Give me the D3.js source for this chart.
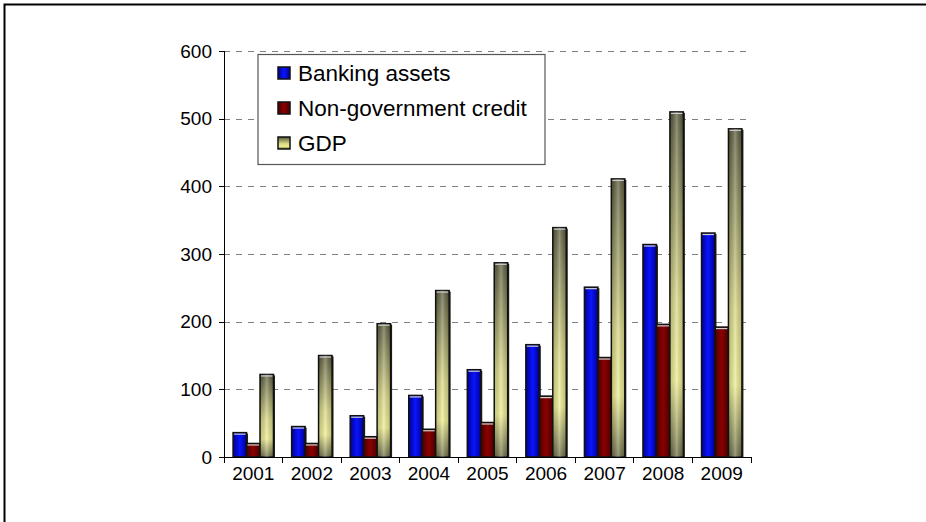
<!DOCTYPE html>
<html lang="en">
<head>
<meta charset="utf-8">
<title>Banking assets, credit and GDP</title>
<script src="https://cdn.jsdelivr.net/npm/d3@7"></script>
<style>
  body { margin: 0; background: #fff; }
  svg { display: block; font-family: "Liberation Sans", Arial, sans-serif; }
  .axis path, .axis line { stroke: #000; stroke-width: 1; shape-rendering: crispEdges; }
  .axis text { font-size: 19px; fill: #000; }
  .grid line { stroke: #808080; stroke-width: 1.3; stroke-dasharray: 6,6; shape-rendering: crispEdges; }
  .grid path { stroke-width: 0; }
  .legend text { font-size: 22.5px; fill: #000; }
</style>
</head>
<body>
<script>
var w = 926, h = 522;
var pLeft = 224, pRight = 751, pTop = 51, pBottom = 457;

var years = ["2001", "2002", "2003", "2004", "2005", "2006", "2007", "2008", "2009"];
var seriesNames = ["Banking assets", "Non-government credit", "GDP"];
var banking = [36, 45, 61, 91, 129, 166, 251, 314, 331];
var credit = [20, 20, 30, 41, 51, 90, 147, 196, 192];
var gdp = [122, 150, 197, 246, 287, 339, 411, 510, 485];
var yTicks = [0, 100, 200, 300, 400, 500, 600];

var series = [banking, credit, gdp];
var gradIds = ["g-blue", "g-red", "g-gdp"];

var svg = d3.select("body").append("svg").attr("width", w).attr("height", h);
var defs = svg.append("defs");

// horizontal shading: dark edges, light middle
function hGrad(id, edge, mid) {
  var g = defs.append("linearGradient").attr("id", id)
    .attr("x1", 0).attr("y1", 0).attr("x2", 1).attr("y2", 0);
  g.append("stop").attr("offset", "0%").attr("stop-color", edge);
  g.append("stop").attr("offset", "50%").attr("stop-color", mid);
  g.append("stop").attr("offset", "100%").attr("stop-color", edge);
}
hGrad("g-blue", "#000090", "#0a14ff");
hGrad("g-red", "#4a0000", "#8c0000");

// GDP: olive at top getting yellow lower down
var gg = defs.append("linearGradient").attr("id", "g-gdp")
  .attr("x1", 0).attr("y1", 0).attr("x2", 0).attr("y2", 1);
gg.append("stop").attr("offset", "0%").attr("stop-color", "#58583a");
gg.append("stop").attr("offset", "55%").attr("stop-color", "#d8d884");
gg.append("stop").attr("offset", "78%").attr("stop-color", "#eeee90");
gg.append("stop").attr("offset", "100%").attr("stop-color", "#6a6a44");

var hl = defs.append("linearGradient").attr("id", "g-shine")
  .attr("x1", 0).attr("y1", 0).attr("x2", 1).attr("y2", 0);
hl.append("stop").attr("offset", "0%").attr("stop-color", "#000").attr("stop-opacity", 0.15);
hl.append("stop").attr("offset", "50%").attr("stop-color", "#fff").attr("stop-opacity", 0.3);
hl.append("stop").attr("offset", "100%").attr("stop-color", "#000").attr("stop-opacity", 0.15);

// outer frame (only top and left edges fall inside the picture)
svg.append("rect").attr("x", 4.5).attr("y", 4.5).attr("width", 1000).attr("height", 1000)
  .attr("fill", "none").attr("stroke", "#000").attr("stroke-width", 2);

var x0 = d3.scaleBand().domain(years).range([pLeft, pRight])
  .paddingInner(0.31).paddingOuter(0.155);
var x1 = d3.scaleBand().domain(d3.range(3)).range([0, x0.bandwidth()]);
var y = d3.scaleLinear().domain([0, 600]).range([pBottom, pTop]);

// gridlines
svg.append("g").attr("class", "grid")
  .attr("transform", "translate(" + pLeft + ",0)")
  .call(d3.axisLeft(y).tickValues(yTicks.slice(1)).tickSize(-(pRight - pLeft)).tickFormat(""));

// bars
years.forEach(function (yr, i) {
  series.forEach(function (s, k) {
    var bx = x0(yr) + x1(k), bw = x1.bandwidth(), by = y(s[i]);
    var g = svg.append("g");
    g.append("rect").attr("x", bx + 1.5).attr("y", by + 1).attr("width", bw)
      .attr("height", pBottom - by - 1).attr("fill", "#222");
    g.append("rect").attr("x", bx).attr("y", by).attr("width", bw)
      .attr("height", pBottom - by).attr("fill", "url(#" + gradIds[k] + ")")
      .attr("stroke", "#111").attr("stroke-width", 1.5);
    if (k == 2) {
      g.append("rect").attr("x", bx).attr("y", by).attr("width", bw)
        .attr("height", pBottom - by).attr("fill", "url(#g-shine)");
    }
    g.append("line").attr("x1", bx + 1).attr("x2", bx + bw - 1)
      .attr("y1", by + 1.5).attr("y2", by + 1.5)
      .attr("stroke", "#d0d0d0").attr("stroke-width", 1.2);
  });
});

// y axis
var yAxis = svg.append("g").attr("class", "axis")
  .attr("transform", "translate(" + pLeft + ",0)")
  .call(d3.axisLeft(y).tickValues(yTicks).tickSizeOuter(0).tickSize(5).tickPadding(7));

// x axis with ticks between categories
var xAxis = svg.append("g").attr("class", "axis")
  .attr("transform", "translate(0," + pBottom + ")")
  .call(d3.axisBottom(x0).tickSize(0).tickSizeOuter(0).tickPadding(10));
xAxis.selectAll("text").attr("dy", "0.71em");
var step = x0.step();
xAxis.selectAll(".sep").data(d3.range(years.length + 1)).enter().append("line")
  .attr("class", "sep")
  .attr("x1", function (d) { return pLeft + d * step; })
  .attr("x2", function (d) { return pLeft + d * step; })
  .attr("y1", 0).attr("y2", 6);

// legend
var lg = svg.append("g").attr("class", "legend");
lg.append("rect").attr("x", 258).attr("y", 54.5).attr("width", 287).attr("height", 110)
  .attr("fill", "#fff").attr("stroke", "#555").attr("stroke-width", 1.2);
seriesNames.forEach(function (name, k) {
  var cy = 73 + k * 35;
  lg.append("rect").attr("x", 278).attr("y", cy - 6).attr("width", 12).attr("height", 12)
    .attr("fill", "url(#" + gradIds[k] + ")").attr("stroke", "#111").attr("stroke-width", 1.5);
  lg.append("text").attr("x", 298).attr("y", cy).attr("dy", "0.36em").text(name);
});
</script>
</body>
</html>
